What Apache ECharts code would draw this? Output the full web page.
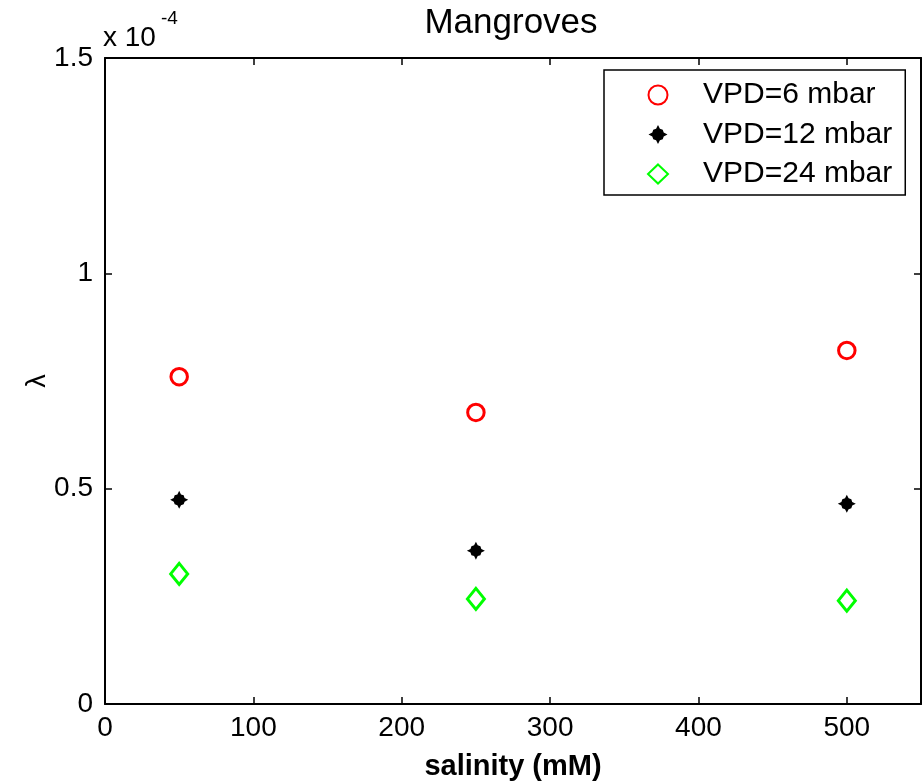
<!DOCTYPE html>
<html>
<head>
<meta charset="utf-8">
<script src="https://cdn.jsdelivr.net/npm/echarts@6/dist/echarts.min.js"></script>
<style>
html,body{margin:0;padding:0;background:#fff;overflow:hidden;}
#chart{width:922px;height:782px;}
</style>
</head>
<body>
<div id="chart"></div>
<script>
// salinity (mM)
var salinity = [50, 250, 500];
// lambda, units of 1e-4
var vpd6 = [0.760, 0.677, 0.821];
var vpd12 = [0.474, 0.356, 0.465];
var vpd24 = [0.302, 0.244, 0.240];
var seriesNames = ['VPD=6 mbar', 'VPD=12 mbar', 'VPD=24 mbar'];

var FONT = 'Liberation Sans, Arial, Helvetica, sans-serif';

function pairs(ys){
    var out = [];
    for (var i = 0; i < salinity.length; i++) out.push([salinity[i], ys[i]]);
    return out;
}

// fat black star (matlab thick '*')
var starPath = 'path://M0,-10 L2,-6 L5,-5 L6,-2 L10,0 L6,2 L5,5 L2,6 L0,10 L-2,6 L-5,5 L-6,2 L-10,0 L-6,-2 L-5,-5 L-2,-6 Z';

var myChart = echarts.init(document.getElementById('chart'));

function axisLine(){ return {show: true, onZero: false, lineStyle: {color: '#000', width: 2}}; }
function tick(){ return {show: true, inside: true, length: 7, lineStyle: {color: '#000', width: 1.5}}; }

var option = {
    backgroundColor: '#fff',
    animation: false,
    title: {
        text: 'Mangroves',
        left: 506,
        textAlign: 'center',
        top: 1,
        textStyle: {fontFamily: FONT, fontSize: 35, fontWeight: 'normal', color: '#000'}
    },
    grid: {left: 105, top: 58, right: 1, bottom: 78, containLabel: false, outerBoundsMode: 'none'},
    legend: {
        orient: 'vertical',
        left: 604,
        top: 70,
        padding: [10, 13, 6, 43],
        itemWidth: 20,
        itemHeight: 19,
        itemGap: 9.5,
        symbolKeepAspect: true,
        backgroundColor: '#fff',
        borderColor: '#000',
        borderWidth: 1.5,
        data: seriesNames,
        textStyle: {fontFamily: FONT, fontSize: 30, color: '#000', lineHeight: 30, padding: [0, 0, 0, 30]}
    },
    xAxis: [{
        type: 'value',
        min: 0, max: 550, interval: 100,
        name: 'salinity (mM)',
        nameLocation: 'middle',
        nameGap: 48,
        nameTextStyle: {fontFamily: FONT, fontSize: 29, fontWeight: 'bold', color: '#000'},
        axisLine: axisLine(),
        axisTick: tick(),
        splitLine: {show: false},
        axisLabel: {showMaxLabel: false, margin: 10, fontFamily: FONT, fontSize: 28, color: '#000'}
    }, {
        type: 'value',
        position: 'top',
        min: 0, max: 550, interval: 100,
        axisLine: axisLine(),
        axisTick: tick(),
        splitLine: {show: false},
        axisLabel: {show: false}
    }],
    yAxis: [{
        type: 'value',
        min: 0, max: 1.5, interval: 0.5,
        name: 'λ',
        nameLocation: 'middle',
        nameRotate: 90,
        nameGap: 54,
        nameMoveOverlap: false,
        nameTextStyle: {fontFamily: FONT, fontSize: 27, color: '#000'},
        axisLine: axisLine(),
        axisTick: tick(),
        splitLine: {show: false},
        axisLabel: {margin: 12, fontFamily: FONT, fontSize: 28, color: '#000'}
    }, {
        type: 'value',
        position: 'right',
        min: 0, max: 1.5, interval: 0.5,
        axisLine: axisLine(),
        axisTick: tick(),
        splitLine: {show: false},
        axisLabel: {show: false}
    }],
    graphic: [
        {type: 'text', left: 103, top: 24, style: {text: 'x 10', font: '28px ' + FONT, fill: '#000'}},
        {type: 'text', left: 161, top: 9, style: {text: '-4', font: '19px ' + FONT, fill: '#000'}}
    ],
    series: [{
        name: seriesNames[0],
        type: 'scatter',
        symbol: 'circle',
        symbolSize: 16.5,
        itemStyle: {color: '#fff', borderColor: '#ff0000', borderWidth: 3, opacity: 1},
        data: pairs(vpd6)
    }, {
        name: seriesNames[1],
        type: 'scatter',
        symbol: starPath,
        symbolSize: 18,
        itemStyle: {color: '#000', opacity: 1},
        data: pairs(vpd12)
    }, {
        name: seriesNames[2],
        type: 'scatter',
        symbol: 'diamond',
        symbolSize: [17, 21],
        itemStyle: {color: '#fff', borderColor: '#00ff00', borderWidth: 3, opacity: 1},
        data: pairs(vpd24)
    }]
};

myChart.setOption(option);
</script>
</body>
</html>
